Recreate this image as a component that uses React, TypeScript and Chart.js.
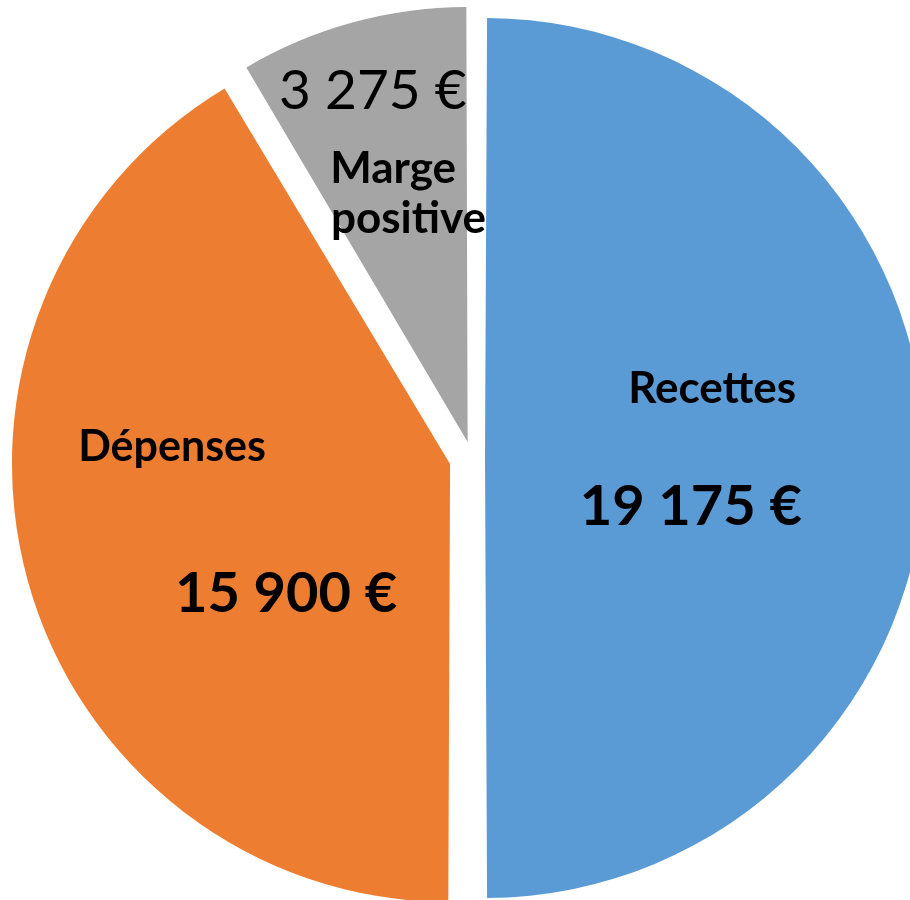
import React, { useEffect, useRef } from "react";
import { Chart, registerables } from "chart.js";

Chart.register(...registerables);

const categories = ["Recettes", "Dépenses", "Marge positive"];
const values = [19175, 15900, 3275];
const valueLabels = ["19 175 €", "15 900 €", "3 275 €"];
const colors = ["#5B9BD5", "#ED7D31", "#A5A5A5"];
const offsets = [52, 91, 66];

const FONT = "Lato, 'Open Sans', sans-serif";

// label lines per slice: position relative to the exploded slice tip, in units of radius
type Line = { text: string; bold: boolean; size: number; dx: number; dy: number; align: CanvasTextAlign };
const labelLayout: Line[][] = [
  [
    { text: categories[0], bold: true, size: 44, dx: 0.532, dy: -0.129, align: "center" },
    { text: valueLabels[0], bold: true, size: 56, dx: 0.482, dy: 0.157, align: "center" },
  ],
  [
    { text: categories[1], bold: true, size: 43, dx: -0.651, dy: -0.007, align: "center" },
    { text: valueLabels[1], bold: true, size: 56, dx: -0.384, dy: 0.347, align: "center" },
  ],
  [
    { text: valueLabels[2], bold: false, size: 55, dx: -0.222, dy: -0.78, align: "center" },
    { text: "Marge", bold: true, size: 44, dx: -0.322, dy: -0.607, align: "left" },
    { text: "positive", bold: true, size: 44, dx: -0.32, dy: -0.489, align: "left" },
  ],
];

const labelPlugin = {
  id: "sliceLabels",
  afterDatasetsDraw(chart: any) {
    const ctx = chart.ctx as CanvasRenderingContext2D;
    const meta = chart.getDatasetMeta(0);
    meta.data.forEach((arc: any, i: number) => {
      const { x, y, startAngle, endAngle, outerRadius } = arc.getProps(
        ["x", "y", "startAngle", "endAngle", "outerRadius"],
        true
      );
      const half = (startAngle + endAngle) / 2;
      const disp = (arc.options.offset || 0) / 4;
      const tx = x + Math.cos(half) * disp;
      const ty = y + Math.sin(half) * disp;
      ctx.save();
      ctx.fillStyle = "#000000";
      ctx.textBaseline = "alphabetic";
      for (const ln of labelLayout[i] || []) {
        ctx.font = `${ln.bold ? "bold " : ""}${ln.size}px ${FONT}`;
        ctx.textAlign = ln.align;
        ctx.fillText(ln.text, tx + ln.dx * outerRadius, ty + ln.dy * outerRadius);
      }
      ctx.restore();
    });
  },
};

export default function App() {
  const ref = useRef<HTMLCanvasElement | null>(null);
  useEffect(() => {
    if (!ref.current) return;
    const chart = new Chart(ref.current, {
      type: "pie",
      data: {
        labels: categories,
        datasets: [
          {
            data: values,
            backgroundColor: colors,
            borderWidth: 0,
            offset: offsets,
            hoverOffset: 0,
          },
        ],
      },
      options: {
        animation: false,
        responsive: false,
        events: [],
        radius: 427,
        layout: { padding: { left: 34, top: 16, right: 0, bottom: 0 } },
        plugins: {
          legend: { display: false },
          tooltip: { enabled: false },
        },
      } as any,
      plugins: [labelPlugin],
    });
    return () => chart.destroy();
  }, []);
  return (
    <div style={{ position: "absolute", left: 0, top: 0, width: 910, height: 900, background: "#ffffff" }}>
      <canvas ref={ref} width={910} height={900} style={{ display: "block", width: 910, height: 900 }} />
    </div>
  );
}
